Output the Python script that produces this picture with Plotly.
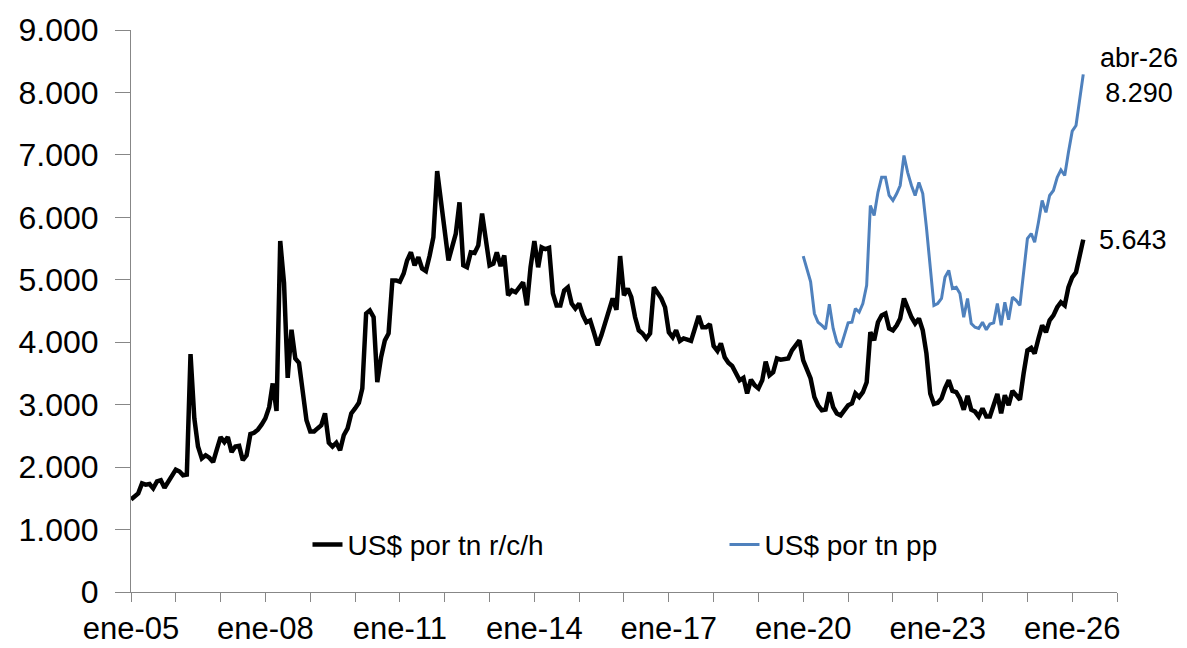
import pandas as pd
import plotly.graph_objects as go

# Monthly series, ene-05 .. abr-26 (US$ por tn r/c/h)
rch_2005 = [1480, 1530, 1580, 1740, 1720, 1730, 1660, 1770, 1790, 1670, 1780, 1880]
rch_2006 = [1960, 1930, 1870, 1880, 3810, 2780, 2330, 2140, 2190, 2150, 2080, 2280]
rch_2007 = [2480, 2400, 2480, 2240, 2330, 2340, 2110, 2190, 2530, 2550, 2600, 2680]
rch_2008 = [2780, 2960, 3340, 2900, 5620, 4950, 3430, 4200, 3740, 3670, 3120, 2750]
rch_2009 = [2570, 2570, 2620, 2670, 2860, 2390, 2330, 2390, 2270, 2510, 2620, 2860]
rch_2010 = [2940, 3030, 3260, 4460, 4510, 4400, 3360, 3760, 4030, 4140, 4990, 4990]
rch_2011 = [4970, 5100, 5310, 5440, 5230, 5360, 5180, 5140, 5390, 5680, 6740, 6270]
rch_2012 = [5680, 5310, 5520, 5740, 6240, 5230, 5200, 5440, 5430, 5550, 6060, 5600]
rch_2013 = [5230, 5260, 5440, 5220, 5390, 4750, 4830, 4800, 4880, 4960, 4590, 5200]
rch_2014 = [5620, 5200, 5520, 5490, 5510, 4780, 4590, 4590, 4830, 4880, 4620, 4540]
rch_2015 = [4620, 4430, 4320, 4350, 4160, 3950, 4110, 4300, 4480, 4700, 4520, 5380]
rch_2016 = [4750, 4860, 4720, 4400, 4190, 4140, 4060, 4140, 4880, 4800, 4700, 4560]
rch_2017 = [4160, 4080, 4190, 4020, 4060, 4040, 4020, 4220, 4420, 4240, 4240, 4290]
rch_2018 = [3940, 3860, 3980, 3760, 3670, 3620, 3510, 3390, 3430, 3180, 3400, 3310]
rch_2019 = [3260, 3390, 3690, 3470, 3520, 3740, 3720, 3730, 3740, 3870, 3950, 4030]
rch_2020 = [3710, 3550, 3420, 3120, 2990, 2910, 2920, 3200, 2960, 2860, 2830, 2910]
rch_2021 = [2990, 3020, 3180, 3120, 3200, 3360, 4160, 4030, 4320, 4430, 4460, 4220]
rch_2022 = [4190, 4270, 4380, 4700, 4540, 4400, 4300, 4380, 4190, 3820, 3180, 3010]
rch_2023 = [3030, 3100, 3260, 3390, 3220, 3200, 3100, 2920, 3140, 2920, 2890, 2810]
rch_2024 = [2940, 2810, 2810, 2970, 3170, 2860, 3150, 2990, 3220, 3150, 3080, 3500]
rch_2025 = [3870, 3910, 3820, 4060, 4270, 4160, 4350, 4430, 4560, 4640, 4590, 4880]
rch_2026 = [5040, 5120, 5390, 5643]

# Monthly series, ene-20 .. abr-26 (US$ por tn pp)
pp_2020 = [5380, 5150, 4970, 4460, 4320, 4270, 4210, 4610, 4220, 4000, 3920, 4110]
pp_2021 = [4310, 4320, 4540, 4480, 4620, 4910, 6190, 6030, 6400, 6640, 6640, 6350]
pp_2022 = [6270, 6380, 6510, 6990, 6720, 6510, 6350, 6560, 6380, 5840, 5260, 4590]
pp_2023 = [4620, 4700, 5040, 5150, 4860, 4880, 4780, 4400, 4700, 4300, 4240, 4220]
pp_2024 = [4320, 4200, 4290, 4310, 4620, 4270, 4640, 4360, 4720, 4670, 4590, 5100]
pp_2025 = [5660, 5740, 5600, 5920, 6270, 6080, 6350, 6430, 6640, 6760, 6670, 7040]
pp_2026 = [7380, 7470, 7900, 8290]

rch = (rch_2005 + rch_2006 + rch_2007 + rch_2008 + rch_2009 + rch_2010 + rch_2011
       + rch_2012 + rch_2013 + rch_2014 + rch_2015 + rch_2016 + rch_2017 + rch_2018
       + rch_2019 + rch_2020 + rch_2021 + rch_2022 + rch_2023 + rch_2024 + rch_2025
       + rch_2026)
pp = pp_2020 + pp_2021 + pp_2022 + pp_2023 + pp_2024 + pp_2025 + pp_2026

rch_start = "2005-01-01"
pp_start = "2020-01-01"
series_names = ["US$ por tn r/c/h", "US$ por tn pp"]
last_label = "abr-26"

tick_years = list(range(2005, 2028))
tick_labels = ["ene-05", "", "", "ene-08", "", "", "ene-11", "", "", "ene-14", "", "",
               "ene-17", "", "", "ene-20", "", "", "ene-23", "", "", "ene-26", ""]

x_rch = pd.date_range(rch_start, periods=len(rch), freq="MS")
x_pp = pd.date_range(pp_start, periods=len(pp), freq="MS")
tick_vals = [pd.Timestamp(year=y, month=1, day=1) for y in tick_years]

FONT = "Liberation Sans, Arial, sans-serif"
AXIS_GRAY = "#878787"

fig = go.Figure()
fig.add_trace(go.Scatter(x=x_rch, y=rch, mode="lines", name=series_names[0],
                         line=dict(color="#000000", width=4.5)))
fig.add_trace(go.Scatter(x=x_pp, y=pp, mode="lines", name=series_names[1],
                         line=dict(color="#4F81BD", width=3)))

def fmt(v):
    return f"{v:,.0f}".replace(",", ".")

fig.add_annotation(x=x_pp[-1], y=pp[-1], text=f"{last_label}<br>{fmt(pp[-1])}",
                   showarrow=False, xanchor="center", yanchor="middle", xshift=56,
                   yshift=-1, align="center", font=dict(size=27, color="#000000", family=FONT))
fig.add_annotation(x=x_rch[-1], y=rch[-1], text=fmt(rch[-1]),
                   showarrow=False, xanchor="left", yanchor="middle", xshift=14,
                   font=dict(size=27, color="#000000", family=FONT))

fig.update_layout(
    width=1187, height=648,
    margin=dict(l=131, r=70, t=30, b=56, autoexpand=False),
    paper_bgcolor="white", plot_bgcolor="white",
    separators=",.",
    font=dict(family=FONT, color="#000000"),
    showlegend=True,
    legend=dict(orientation="h", x=0.179, xanchor="left", y=0.084, yanchor="middle",
                font=dict(size=28, family=FONT, color="#000000"),
                entrywidth=372, entrywidthmode="pixels", bgcolor="rgba(0,0,0,0)",
                itemwidth=30),
)
fig.update_xaxes(
    type="date", range=["2005-01-01", "2027-01-01"],
    tickvals=tick_vals, ticktext=tick_labels,
    ticks="outside", ticklen=9, tickwidth=1, tickcolor=AXIS_GRAY,
    showline=True, linecolor=AXIS_GRAY, linewidth=1,
    showgrid=False, zeroline=False, automargin=False,
    tickfont=dict(size=31, family=FONT, color="#000000"),
    ticklabelstandoff=0,
)
fig.update_yaxes(
    range=[0, 9000], dtick=1000, tick0=0, tickformat=",d",
    ticks="outside", ticklen=15, tickwidth=1, tickcolor=AXIS_GRAY,
    showline=True, linecolor=AXIS_GRAY, linewidth=1,
    showgrid=False, zeroline=False, automargin=False,
    tickfont=dict(size=32, family=FONT, color="#000000"),
    ticklabelstandoff=10,
)

fig.write_html("out.html", config={"displayModeBar": False})

# remove the browser's default page margin so the figure fills the window exactly
with open("out.html", "r", encoding="utf-8") as f:
    html = f.read()
html = html.replace("<head>", "<head><style>html,body{margin:0;padding:0;overflow:hidden;}</style>", 1)
with open("out.html", "w", encoding="utf-8") as f:
    f.write(html)
